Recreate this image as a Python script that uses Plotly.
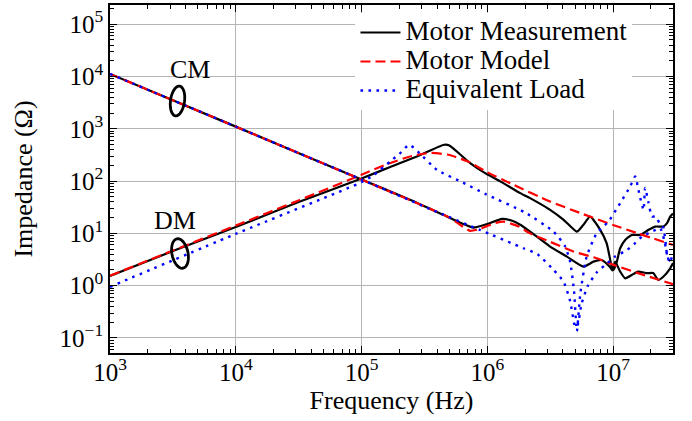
import math
import plotly.graph_objects as go

# ---------------- data ----------------
# Differential mode (DM)
dm_meas_f = [1e3, 3.162e3, 1e4, 3.162e4, 1e5, 1.69e5, 2.82e5, 4.54e5, 5.0e5, 7.31e5, 9.62e5,
             1.26e6, 1.83e6, 2.19e6, 3.16e6, 4.05e6, 5.16e6, 5.75e6, 6.58e6, 7.91e6, 8.91e6,
             9.77e6, 1.01e7, 1.07e7, 1.14e7, 1.25e7, 1.41e7, 1.64e7, 1.92e7, 2.17e7, 2.51e7,
             2.69e7, 2.85e7, 3.0e7]
dm_meas_z = [1.53, 4.6, 13.2, 39.8, 112, 186, 302, 495, 479, 221, 142,
             100, 58.9, 47.2, 28.2, 18.2, 10.8, 14.1, 20.9, 11.7, 6.46,
             2.31, 2.0, 2.82, 5.2, 7.5, 9.3, 9.3, 11.7, 13.5, 13.5,
             15.7, 20.9, 24]

dm_model_f = [1e3, 3.162e3, 1e4, 3.162e4, 1e5, 1.58e5, 2.51e5, 3.55e5, 5.01e5, 7.08e5, 1e6,
              1.58e6, 3.16e6, 5.62e6, 1e7, 1.58e7, 3e7]
dm_model_z = [1.55, 4.7, 14.1, 42.7, 132, 209, 302, 347, 316, 234, 148,
              87, 40.7, 24, 14.5, 10, 6.0]

dm_load_f = [1e3, 1e4, 1e5, 1.26e5, 1.69e5, 2.0e5, 2.4e5, 2.82e5, 3.98e5, 6.31e5, 9.62e5,
             2.0e6, 3.37e6, 4.17e6, 4.57e6, 4.9e6, 5.16e6, 5.5e6, 6.17e6, 7.41e6, 9.2e6,
             1.14e7, 1.37e7, 1.5e7, 1.62e7, 1.75e7, 1.8e7, 1.91e7, 2.04e7, 2.19e7, 2.4e7,
             2.51e7, 2.69e7, 2.82e7, 3.0e7]
dm_load_z = [0.95, 9.8, 95, 132, 237, 331, 495, 363, 164, 95.5, 57.1,
             25.1, 10.8, 5.6, 2.8, 0.79, 0.135, 0.71, 3.6, 10, 16.8,
             37.8, 79, 123, 56, 28, 74, 40, 21, 21, 14,
             13.2, 4.0, 2.8, 4.0]

# Common mode (CM)
cm_meas_f = [1e3, 1e4, 1e5, 2.51e5, 4.47e5, 6.31e5, 7.76e5, 1e6, 1.31e6, 1.58e6, 1.83e6,
             2.19e6, 3.16e6, 4.3e6, 5.82e6, 7.0e6, 8.13e6, 9.5e6, 9.9e6, 1.04e7, 1.14e7,
             1.25e7, 1.41e7, 1.58e7, 1.86e7, 2.09e7, 2.29e7, 2.51e7, 2.85e7, 3.0e7]
cm_meas_z = [11200, 1100, 107, 42.7, 22.6, 15.5, 12.9, 15.1, 19, 17.4, 14.6,
             10.8, 5.6, 3.6, 2.31, 2.88, 3.1, 2.24, 1.95, 2.88, 1.86,
             1.38, 1.6, 1.86, 1.74, 1.74, 1.29, 1.48, 2.15, 2.7]

cm_model_f = [1e3, 1e4, 1e5, 3.16e5, 5.01e5, 6.03e5, 7.31e5, 8.91e5, 1.12e6, 1.35e6, 1.78e6,
              2.19e6, 3.16e6, 4.85e6, 7.41e6, 1.01e7, 1.58e7, 2.6e7, 3.0e7]
cm_model_z = [11200, 1100, 107, 33, 20, 14.8, 11.2, 12.3, 15.5, 16.8, 13.5,
              10, 6.9, 4.5, 3.35, 2.5, 1.74, 1.19, 1.07]

cm_load_f = [1e3, 1e4, 1e5, 3.98e5, 8.71e5, 1.94e6, 2.51e6, 3.37e6, 4.05e6, 4.57e6, 5.01e6,
             5.25e6, 5.62e6, 6.31e6, 7.41e6, 8.91e6, 1.04e7, 1.29e7, 1.5e7, 1.7e7, 2.04e7,
             2.37e7, 2.57e7, 2.75e7, 3.0e7]
cm_load_z = [11200, 1100, 107, 25.7, 11.7, 5.2, 4.0, 2.0, 1.19, 0.5, 0.16,
             0.18, 0.45, 1.0, 1.78, 2.63, 3.6, 4.8, 6.5, 8.7, 10.8,
             12.6, 7.1, 3.2, 2.8]

x_tickvals = [1e3, 1e4, 1e5, 1e6, 1e7]
x_ticktext = ["10<sup>3</sup>", "10<sup>4</sup>", "10<sup>5</sup>", "10<sup>6</sup>", "10<sup>7</sup>"]
y_tickvals = [1e-1, 1e0, 1e1, 1e2, 1e3, 1e4, 1e5]
y_ticktext = ["10<sup>\u22121</sup>", "10<sup>0</sup>", "10<sup>1</sup>", "10<sup>2</sup>",
              "10<sup>3</sup>", "10<sup>4</sup>", "10<sup>5</sup>"]
x_lim = [1e3, 3e7]
y_lim = [0.0516, 2.33e5]

series_names = ["Motor Measurement", "Motor Model", "Equivalent Load"]

# ---------------- figure ----------------
FONT = "Liberation Serif"
W, H = 692, 421
ML, MR, MT, MB = 110, 19, 5, 68

styles = {
    "Motor Measurement": dict(color="black", width=2.2, dash="solid"),
    "Motor Model": dict(color="#ff0000", width=2.2, dash="10px,5px"),
    "Equivalent Load": dict(color="#0000ff", width=2.4, dash="2.6px,5.4px"),
}

fig = go.Figure()
groups = [
    (series_names[0], dm_meas_f, dm_meas_z, cm_meas_f, cm_meas_z),
    (series_names[1], dm_model_f, dm_model_z, cm_model_f, cm_model_z),
    (series_names[2], dm_load_f, dm_load_z, cm_load_f, cm_load_z),
]
for name, fd, zd, fc, zc in groups:
    st = styles[name]
    for i, (fx, zy) in enumerate([(fd, zd), (fc, zc)]):
        fig.add_trace(go.Scatter(
            x=fx, y=zy, mode="lines",
            name='<span style="font-size:27px">' + name + "</span>",
            legendgroup=name,
            showlegend=(i == 0),
            line=dict(color=st["color"], width=st["width"], dash=st["dash"],
                      shape="spline", smoothing=0.5),
        ))

minor_x = [m * 10 ** e for e in range(3, 8) for m in range(2, 10) if m * 10 ** e <= 3e7]
minor_y = [m * 10.0 ** e for e in range(-2, 6) for m in range(2, 10)
           if y_lim[0] <= m * 10.0 ** e <= y_lim[1]]

axis_common = dict(
    type="log", showline=True, linewidth=1.6, linecolor="black", mirror="allticks",
    ticks="inside", ticklen=7, tickwidth=1.2, tickcolor="black",
    showgrid=True, gridcolor="#b4b4b4", gridwidth=1, zeroline=False,
    tickfont=dict(family=FONT, size=25, color="black"),
    tickmode="array",
)

fig.update_xaxes(
    **axis_common,
    range=[math.log10(x_lim[0]), math.log10(x_lim[1])],
    tickvals=x_tickvals, ticktext=x_ticktext,
    ticklabelstandoff=-4,
    minor=dict(tickmode="array", tickvals=minor_x, ticks="inside", ticklen=4,
               tickwidth=1, tickcolor="black", showgrid=False),
    title=dict(text="Frequency (Hz)", font=dict(family=FONT, size=26, color="black"), standoff=0),
)
fig.update_yaxes(
    **axis_common,
    range=[math.log10(y_lim[0]), math.log10(y_lim[1])],
    tickvals=y_tickvals, ticktext=y_ticktext,
    minor=dict(tickmode="array", tickvals=minor_y, ticks="inside", ticklen=4,
               tickwidth=1, tickcolor="black", showgrid=False),
    title=dict(text="Impedance (\u03a9)", font=dict(family=FONT, size=26, color="black"), standoff=19),
)

pw, ph = W - ML - MR, H - MT - MB


def to_paper(px, py):
    return (px - ML) / pw, (H - MB - py) / ph


def ellipse_path(cx, cy, a, b, ang_deg, n=48):
    t = math.radians(ang_deg)
    pts = []
    for k in range(n):
        u = 2 * math.pi * k / n
        ex, ey = a * math.cos(u), b * math.sin(u)
        rx = ex * math.cos(t) - ey * math.sin(t)
        ry = ex * math.sin(t) + ey * math.cos(t)
        pts.append(to_paper(cx + rx, cy + ry))
    d = "M " + " L ".join(f"{x:.5f},{y:.5f}" for x, y in pts) + " Z"
    return d


shapes = [
    dict(type="path", xref="paper", yref="paper", path=ellipse_path(177.5, 101, 7, 15, 8),
         line=dict(color="black", width=2.8)),
    dict(type="path", xref="paper", yref="paper", path=ellipse_path(180, 253.5, 8, 15, -12),
         line=dict(color="black", width=2.8)),
]

annotations = []
for label, (px, py) in [("CM", (190, 69)), ("DM", (175, 220))]:
    ax_, ay_ = to_paper(px, py)
    annotations.append(dict(text=label, x=ax_, y=ay_, xref="paper", yref="paper",
                            showarrow=False, xanchor="center", yanchor="middle",
                            font=dict(family=FONT, size=26, color="black")))

fig.update_layout(
    template="none",
    width=W, height=H,
    margin=dict(l=ML, r=MR, t=MT, b=MB, autoexpand=False),
    paper_bgcolor="white", plot_bgcolor="white",
    font=dict(family=FONT, size=26, color="black"),
    showlegend=True,
    legend=dict(x=0.436, y=0.977, xanchor="left", yanchor="top",
                bgcolor="white", borderwidth=0,
                font=dict(family=FONT, size=20, color="black"),
                tracegroupgap=0, itemwidth=40),
    shapes=shapes,
    annotations=annotations,
)

fig.write_html("out.html", config={"displayModeBar": False},
               post_script="document.body.style.margin='0px';")
